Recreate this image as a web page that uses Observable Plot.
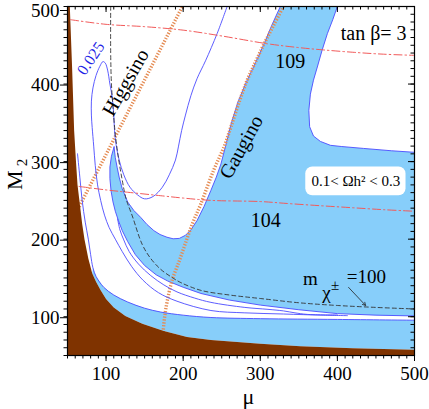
<!DOCTYPE html>
<html><head><meta charset="utf-8">
<script src="https://cdn.jsdelivr.net/npm/d3@7"></script>
<script src="https://cdn.jsdelivr.net/npm/@observablehq/plot@0.6"></script>
<style>body{margin:0;background:#fff}svg{display:block}svg text{font-family:"Liberation Serif","Times New Roman",serif}</style>
</head><body><div id="chart"></div>
<script>
// ---- data (mu, M2) ----
const brownEdge = [[53,500],[56,420],[58.6,340],[61,300],[63,270],[66,245],[69,220],[72,200],[77,175],[82,156],[87,145],[93,134],[100,123],[110,112],[125,101],[147,91],[175,81.5],[205,74],[236,70],[300,65],[352,62],[420,59.5],[500,57.5]];
const lineL1 = [[63,310],[66,280],[69,250],[73,222],[77,200],[80,180],[83,163],[87,152],[97,138],[110,128],[128,119],[150,111],[171,106],[200,102],[236,99],[300,97.5],[400,96.5],[500,95.5]];
const lineL3 = [[115,226],[118,212],[123,199],[130,184],[142,168],[158,153],[175,141],[192,132],[215,124],[236,118.5],[280,112],[310,109.5],[330,107.5],[345,105],[361,103],[400,102.3]];
const contour025 = [[257,500],[244,465],[229,430],[218,407],[210,385],[203,360],[198,340],[194,320],[190,302],[182,283],[173,267],[161,255],[150,252],[141,257],[131,267],[123,283],[117,302],[113,322],[111,340],[110,360],[108,383],[105,400],[102,418],[99,427],[96,429],[92,423],[87,411],[83,395],[81,378],[81,360],[82,344],[84,320],[86,295],[89,270],[93,250],[98,231],[104,215],[112,200],[121,184],[133,165],[148,147],[168,131],[192,120],[236,108],[280,105],[330,103.5],[380,102],[413,101.4]];
const upperBlue = [[110.4,319],[107,307],[105,293],[105,278],[106.5,262],[109,248],[112,236],[116,224],[121,211],[128,197],[138,180],[150,166],[165,154],[180,146],[200,138],[223,130],[236,127],[260,121.5],[300,115],[350,109],[400,104],[450,102],[500,101],
  [500,312],[470,314],[434,317],[405,319.5],[391,321],[378,326],[369,333],[364,345],[363,366],[365,387],[369,405],[374,422],[380,443],[387,465],[394,483],[400,500],
  [326,500],[315,476],[305,452],[294,428],[283,405],[271,377],[262,348],[255,320],[249,297],[243,280],[236,263],[227,242],[218,224],[210,212],[203,205],[195,201],[187,200.5],[179,202.5],[170,206],[162,211],[153,219],[145,228],[136,237],[128,248],[121,265],[117,280],[114.5,292],[112,305],[110.4,319]];
const higgsinoLine = [[60,232],[199,500]];
const gauginoLine = [[174,80],[176,100],[179.5,121],[186,148],[195,172],[203,195],[212,220],[222.7,245],[240,290],[253,319],[262,345],[272,375],[283,405],[294,429],[305,452],[318,477],[330,500]];
const mh109 = [[54,483],[100,477],[150,474],[200,469.5],[250,462],[309,452],[350,447],[382,444],[420,441],[460,438.5],[500,437]];
const mh104 = [[65,268],[100,263.5],[128,260.5],[171,256],[200,253],[236,250],[300,248.5],[335,246],[380,243],[420,240.5],[460,238],[500,236]];
const mchi100 = [[106,500],[106,440],[107,400],[109,370],[112,335],[116,305],[121,276],[126,252],[134,230],[147,193],[158,175],[171,161],[185,151],[197,144],[223,134],[260,128],[300,123.5],[350,118],[400,114.5],[450,112],[500,110]];
const arrowSeg = [{u1:414.5,m1:137.8,u2:436.5,m2:114.6}];
const majorTicks = [100,200,300,400,500];
const yLowTicks = [100,200,300,400];
const yTopTick = [500];
const minorTicks = d3.range(50,501,10);
const boxRange = [{u1:359,u2:489,m1:256,m2:293}];
const plainLabels = [{t:"109",u:339,m:429},{t:"104",u:307,m:224.5},{t:"tan β= 3",u:447,m:465}];
const omegaLabel = [{t:"0.1< Ωh² < 0.3",u:424,m:274.7}];
const gauginoLabel = [{t:"Gaugino",u:275.4,m:318.7}];
const higgsinoLabel = [{t:"Higgsino",u:125.5,m:402}];
const label025 = [{t:"0.025",u:80.2,m:433}];
const mLabel = [{t:"m",u:365,m:149},{t:"=100",u:437.7,m:151.4}];
const chiLabel = [{t:"χ",u:386,m:131}];
const pmLabel = [{t:"±",u:397,m:141}];
const xTitle = [{t:"μ",u:284.7,m:-4}];
const yTitleM = [{t:"M",u:-18.5,m:276}];
const yTitle2 = [{t:"2",u:-8.8,m:299}];

const LB = "#87cefa", BROWN = "#7f3300", BL = "#4b4bff", OR = "#e58b52";
const serif = "Liberation Serif";
const pxU = 450/347, pxM = 450/349; // data units per pixel

const chart = Plot.plot({
  width: 429, height: 409,
  marginLeft: 67, marginRight: 15, marginTop: 6, marginBottom: 54,
  x: {domain: [50, 500]}, y: {domain: [50, 500]},
  style: {fontFamily: serif, background: "white", color: "black"},
  marks: [
    // fills
    Plot.line([...lineL1.slice(6), ...brownEdge.slice(9).reverse()], {fill: LB, stroke: "none", clip: true}),
    Plot.line(upperBlue, {fill: LB, stroke: BL, strokeWidth: 0.9, clip: true}),
    // orange dotted boundaries
    Plot.line(higgsinoLine, {stroke: OR, strokeWidth: 3.4, strokeDasharray: "1.3,1.6", strokeLinecap: "butt", clip: true}),
    Plot.line(gauginoLine, {stroke: OR, strokeWidth: 3.4, strokeDasharray: "1.3,1.6", strokeLinecap: "butt", curve: "catmull-rom", clip: true}),
    // excluded
    Plot.line([[50,50],[50,500],...brownEdge,[500,50]], {fill: BROWN, stroke: "none", clip: true}),
    // contours
    Plot.line(lineL1, {stroke: BL, strokeWidth: 0.9, curve: "catmull-rom", clip: true}),
    Plot.line(lineL3, {stroke: BL, strokeWidth: 0.9, curve: "catmull-rom", clip: true}),
    Plot.line(contour025, {stroke: BL, strokeWidth: 0.9, curve: "catmull-rom", clip: true}),
    Plot.line(mchi100, {stroke: "#333", strokeWidth: 0.9, strokeDasharray: "4,3", curve: "catmull-rom", clip: true}),
    Plot.line(mh109, {stroke: "#f25a5a", strokeWidth: 1, strokeDasharray: "8,3,1.5,3", curve: "catmull-rom", clip: true}),
    Plot.line(mh104, {stroke: "#f25a5a", strokeWidth: 1, strokeDasharray: "8,3,1.5,3", curve: "catmull-rom", clip: true}),
    Plot.arrow(arrowSeg, {x1: "u1", y1: "m1", x2: "u2", y2: "m2", stroke: "#222", strokeWidth: 0.8, headLength: 6}),
    // labels
    Plot.rect(boxRange, {x1: "u1", x2: "u2", y1: "m1", y2: "m2", fill: "white", rx: 7}),
    Plot.text(omegaLabel, {x: "u", y: "m", text: "t", fontSize: 15, fontFamily: serif}),
    Plot.text(plainLabels, {x: "u", y: "m", text: "t", fontSize: 20, fontFamily: serif}),
    Plot.text(gauginoLabel, {x: "u", y: "m", text: "t", fontSize: 20, rotate: -61, fontFamily: serif}),
    Plot.text(higgsinoLabel, {x: "u", y: "m", text: "t", fontSize: 20, rotate: -60, fontFamily: serif}),
    Plot.text(label025, {x: "u", y: "m", text: "t", fontSize: 16, rotate: -56, fill: "#1f1fe6", fontFamily: serif}),
    Plot.text(mLabel, {x: "u", y: "m", text: "t", fontSize: 19, fontFamily: serif}),
    Plot.text(chiLabel, {x: "u", y: "m", text: "t", fontSize: 19, fontFamily: serif}),
    Plot.text(pmLabel, {x: "u", y: "m", text: "t", fontSize: 15, fontFamily: serif}),
    // axes
    Plot.axisX({ticks: majorTicks, tickSize: 6, tickPadding: 5, fontSize: 19, fontFamily: serif, label: null}),
    Plot.axisX({ticks: minorTicks, tickSize: 3.5, fill: "none", label: null}),
    Plot.axisY({ticks: yLowTicks, tickSize: 7, tickPadding: 1, fontSize: 19, fontFamily: serif, label: null, dy: 1}),
    Plot.axisY({ticks: yTopTick, tickSize: 7, tickPadding: 1, fontSize: 19, fontFamily: serif, label: null, dy: 4}),
    Plot.axisY({ticks: minorTicks, tickSize: 3.5, fill: "none", label: null}),
    Plot.ruleX(minorTicks, {x: d => d, y1: 500, y2: 500 - 3.5*pxM, stroke: "black"}),
    Plot.ruleX(majorTicks, {x: d => d, y1: 500, y2: 500 - 6*pxM, stroke: "black"}),
    Plot.ruleY(minorTicks, {y: d => d, x1: 500, x2: 500 - 3.5*pxU, stroke: "black"}),
    Plot.ruleY(majorTicks, {y: d => d, x1: 500, x2: 500 - 6*pxU, stroke: "black"}),
    Plot.frame({stroke: "black", strokeWidth: 1.2}),
    Plot.text(xTitle, {x: "u", y: "m", text: "t", fontSize: 22, fontFamily: serif}),
    Plot.text(yTitleM, {x: "u", y: "m", text: "t", fontSize: 22, rotate: -90, fontFamily: serif}),
    Plot.text(yTitle2, {x: "u", y: "m", text: "t", fontSize: 15, rotate: -90, fontFamily: serif})
  ]
});
document.getElementById("chart").appendChild(chart);
</script></body></html>
